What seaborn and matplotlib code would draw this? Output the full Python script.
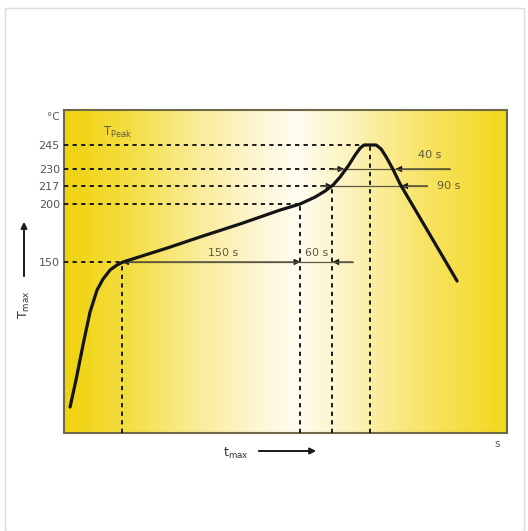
import numpy as np
import pandas as pd
import matplotlib
matplotlib.use("Agg")
import matplotlib.pyplot as plt
import seaborn as sns
from matplotlib.colors import LinearSegmentedColormap
from matplotlib.patches import Rectangle, FancyArrowPatch

sns.set_style("white")
plt.rcParams["font.family"] = ["DejaVu Sans"]
plt.rcParams["mathtext.default"] = "regular"

# reflow profile
time_s = [5.1, 10.1, 16.0, 21.9, 27.8, 32.9, 38.8, 44.7, 49.7, 68.2, 86.8, 114.6,
          148.3, 182, 198.8, 211.5, 219.9, 226.6, 232.5, 239.3, 245.2, 249.4,
          252.7, 262.8, 267, 271.3, 277.2, 283, 331]
temp_c = [22.8, 46.5, 77.2, 106.1, 125.4, 135.1, 143, 147.4, 150, 156, 162, 171.6,
          182.8, 194.8, 200, 206.6, 212.3, 217.8, 223.9, 231.9, 238.8, 243.1,
          245, 245, 242.5, 237.5, 229.4, 218.5, 133.3]

level_temps = [150, 200, 217, 230, 245]
level_labels = ["150", "200", "217", "230", "245"]
level_ends = [49, 199, 226, 237, 253]        # where the dashed level lines stop
marker_times = [49, 199, 226, 258]
marker_temps = [150, 200, 217, 245]

span_labels = ["150 s", "60 s", "40 s", "90 s"]

# the temperature axis of the drawing is schematic, not linear
TEMP_KNOTS = [-100, 0, 150, 200, 217, 230, 245, 267, 400]
HEIGHT_KNOTS = [-114, 0, 171, 229, 247, 264, 288, 323, 536]


def fwd(t):
    return np.interp(t, TEMP_KNOTS, HEIGHT_KNOTS)


def inv(h):
    return np.interp(h, HEIGHT_KNOTS, TEMP_KNOTS)


def head(ax, x0, x1, y):
    ax.annotate("", xy=(x1, y), xytext=(x0, y),
                arrowprops=dict(arrowstyle="-|>", color="#1a1a1a", lw=0.8,
                                mutation_scale=9, shrinkA=0, shrinkB=0))


fig = plt.figure(figsize=(5.28, 5.31), dpi=100)
pos = [64 / 528, 1 - 433 / 531, 443 / 528, 323 / 531]

# gradient background
bg = fig.add_axes(pos, zorder=0)
cmap = LinearSegmentedColormap.from_list("reflow", [
    (0.0, "#f0d20c"), (0.15, "#f5de44"), (0.3, "#f9ec98"), (0.45, "#fdf7d8"),
    (0.53, "#fffdf0"), (0.65, "#fcf2bc"), (0.8, "#f8e56c"), (1.0, "#f2d81c")])
bg.imshow(np.linspace(0, 1, 256)[None, :], aspect="auto", cmap=cmap, extent=[0, 1, 0, 1])
bg.set_axis_off()

ax = fig.add_axes(pos, zorder=1)
ax.patch.set_alpha(0)
ax.set_yscale("function", functions=(fwd, inv))
ax.set_xlim(0, 373)
ax.set_ylim(0, 267)

df = pd.DataFrame({"t": time_s, "T": temp_c})
sns.lineplot(data=df, x="t", y="T", ax=ax, color="#141414", lw=2.3, sort=False, zorder=5)
ax.lines[-1].set_solid_joinstyle("round")
ax.lines[-1].set_solid_capstyle("round")

dot = (0, (2.2, 2.2))
for y, xe in zip(level_temps, level_ends):
    ax.plot([0, xe], [y, y], color="#1a1a1a", lw=1.4, ls=dot, zorder=3)
for x, y in zip(marker_times, marker_temps):
    ax.plot([x, x], [0, y], color="#1a1a1a", lw=1.4, ls=dot, zorder=3)

line_kw = dict(color="#5c5940", lw=0.9, zorder=4)
txt_kw = dict(color="#5f5a3c", fontsize=8)

# 150 s and 60 s
ax.plot([49, 243], [150, 150], **line_kw)
head(ax, 134, 49, 150)
head(ax, 134, 199, 150)
head(ax, 243, 226, 150)
ax.text(134, 158, span_labels[0], ha="center", va="center", **txt_kw)
ax.text(213, 158, span_labels[1], ha="center", va="center", **txt_kw)

# 40 s
ax.plot([224, 325], [230, 230], **line_kw)
head(ax, 224, 236, 230)
head(ax, 325, 279, 230)
ax.text(298, 238.5, span_labels[2], ha="left", va="center", **txt_kw)

# 90 s
ax.plot([216, 306], [217, 217], **line_kw)
head(ax, 216, 226, 217)
head(ax, 306, 284, 217)
ax.text(314, 217, span_labels[3], ha="left", va="center", **txt_kw)

ax.text(33, 253, r"T$_{Peak}$", ha="left", va="center", color="#5f5a3c", fontsize=8.5)

ax.set_xticks([])
ax.set_yticks(level_temps)
ax.set_yticklabels(level_labels)
ax.tick_params(axis="y", length=0, labelsize=8, labelcolor="#555555", pad=3)
ax.set_xlabel("")
ax.set_ylabel("")
for s in ax.spines.values():
    s.set_visible(True)
    s.set_color("#6e6a48")
    s.set_linewidth(1.5)

# units and axis names
fig.text(53 / 528, 1 - 117 / 531, "°C", color="#555555", fontsize=7.5, ha="center", va="center")
fig.text(497 / 528, 1 - 444 / 531, "s", color="#555555", fontsize=7.5, ha="center", va="center")
fig.text(24 / 528, 1 - 305 / 531, r"T$_{max}$", rotation=90, color="#333333",
         fontsize=9, ha="center", va="center")
fig.text(236 / 528, 1 - 453 / 531, r"t$_{max}$", color="#333333",
         fontsize=9, ha="center", va="center")
fig.patches.append(FancyArrowPatch(
    (24 / 528, 1 - 279 / 531), (24 / 528, 1 - 219 / 531), transform=fig.transFigure,
    arrowstyle="-|>", mutation_scale=9, color="#1a1a1a", lw=1.4))
fig.patches.append(FancyArrowPatch(
    (256 / 528, 1 - 451 / 531), (319 / 528, 1 - 451 / 531), transform=fig.transFigure,
    arrowstyle="-|>", mutation_scale=9, color="#1a1a1a", lw=1.4))

# faint frame around the whole picture
fig.patches.append(Rectangle((5 / 528, 0), 519 / 528, 523 / 531, transform=fig.transFigure,
                             fill=False, ec="#dddddd", lw=1))

fig.savefig("out.png", dpi=100)
